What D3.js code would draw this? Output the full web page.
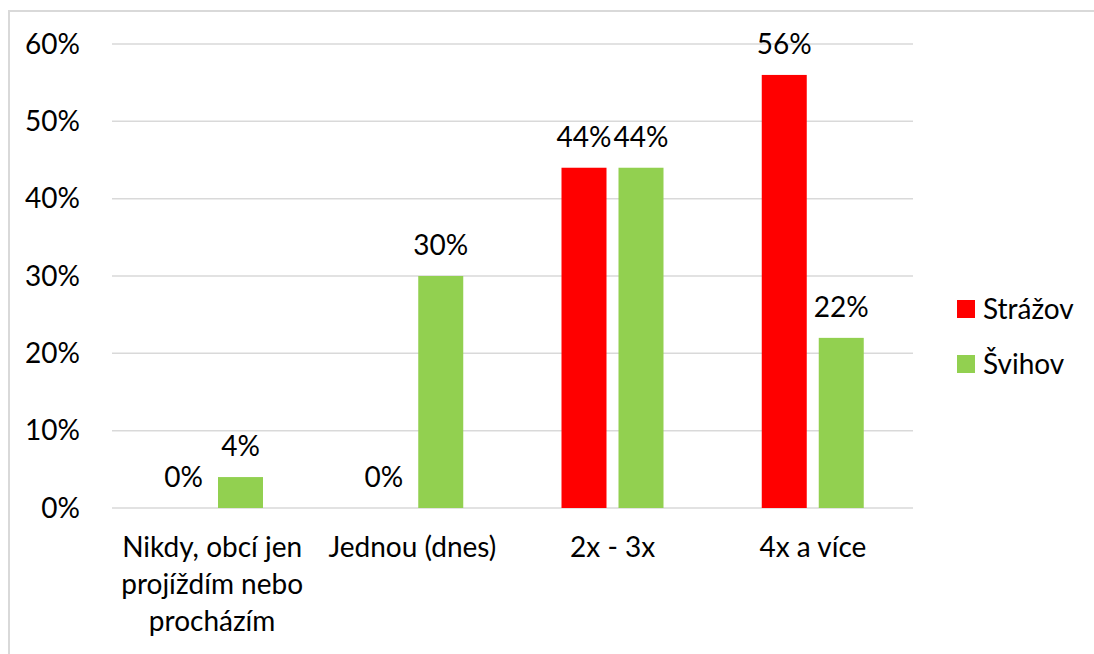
<!DOCTYPE html>
<html>
<head>
<meta charset="utf-8">
<script src="https://cdn.jsdelivr.net/npm/d3@7"></script>
<style>
  body { margin: 0; background: #fff; }
  svg { display: block; font-family: Lato, "Open Sans", sans-serif; }
</style>
</head>
<body>
<svg id="chart" width="1094" height="654"></svg>
<script>
const categories = ["Nikdy, obcí jen projíždím nebo procházím", "Jednou (dnes)", "2x - 3x", "4x a více"];
const series = ["Strážov", "Švihov"];
const strazovValues = [0, 0, 0.44, 0.56];
const svihovValues = [0.04, 0.30, 0.44, 0.22];
const yTicks = [0, 0.1, 0.2, 0.3, 0.4, 0.5, 0.6];
const colors = ["#ff0000", "#92d050"];

const values = [strazovValues, svihovValues];
const svg = d3.select("#chart");
const fontSize = 28;

// chart frame (only top and left edges visible)
svg.append("path")
    .attr("d", "M9,654V11H1094")
    .attr("fill", "none")
    .attr("stroke", "#d9d9d9")
    .attr("stroke-width", 2);

const x0 = d3.scaleBand().domain(categories).range([112, 913]);
const x1 = d3.scaleBand().domain(series).range([49, 151]).paddingInner(12 / 57);
const y = d3.scaleLinear().domain([0, 0.6]).range([508, 44]);
const pct = d3.format(".0%");

// gridlines
svg.append("g")
    .selectAll("line")
    .data(yTicks)
    .enter().append("line")
    .attr("x1", 112)
    .attr("x2", 913)
    .attr("y1", d => y(d))
    .attr("y2", d => y(d))
    .attr("stroke", "#d9d9d9")
    .attr("stroke-width", 1.5);

// y tick labels
svg.append("g")
    .attr("text-anchor", "end")
    .selectAll("text")
    .data(yTicks)
    .enter().append("text")
    .attr("x", 80)
    .attr("y", d => y(d))
    .attr("dy", "0.35em")
    .attr("font-size", fontSize)
    .attr("fill", "#000")
    .text(pct);

// bars
const groups = svg.append("g")
    .selectAll("g")
    .data(categories)
    .enter().append("g")
    .attr("transform", d => `translate(${x0(d)},0)`);

const bars = groups.selectAll("g")
    .data((d, i) => series.map((s, j) => ({ s: s, j: j, v: values[j][i] })))
    .enter().append("g");

bars.append("rect")
    .attr("x", d => x1(d.s))
    .attr("width", x1.bandwidth())
    .attr("y", d => y(d.v))
    .attr("height", d => y(0) - y(d.v))
    .attr("fill", d => colors[d.j]);

bars.append("text")
    .attr("x", d => x1(d.s) + x1.bandwidth() / 2)
    .attr("y", d => y(d.v) - 21)
    .attr("text-anchor", "middle")
    .attr("font-size", fontSize)
    .text(d => pct(d.v));

// x labels with wrapping
const xLabels = svg.append("g")
    .attr("text-anchor", "middle")
    .selectAll("text")
    .data(categories)
    .enter().append("text")
    .attr("x", d => x0(d) + x0.bandwidth() / 2)
    .attr("y", 557)
    .attr("font-size", fontSize)
    .text(d => d);

xLabels.each(function(d) {
    const text = d3.select(this);
    const words = d.split(" ");
    const cx = +text.attr("x");
    text.text(null);
    let line = [];
    let lineNo = 0;
    let tspan = text.append("tspan").attr("x", cx).attr("y", 557);
    words.forEach(w => {
        line.push(w);
        tspan.text(line.join(" "));
        if (tspan.node().getComputedTextLength() > 200 && line.length > 1) {
            line.pop();
            tspan.text(line.join(" "));
            line = [w];
            lineNo++;
            tspan = text.append("tspan").attr("x", cx).attr("y", 557 + lineNo * 37).text(w);
        }
    });
});

// legend
const legend = svg.append("g")
    .selectAll("g")
    .data(series)
    .enter().append("g")
    .attr("transform", (d, i) => `translate(957,${300 + i * 55})`);

legend.append("rect")
    .attr("width", 18)
    .attr("height", 18)
    .attr("fill", (d, i) => colors[i]);

legend.append("text")
    .attr("x", 26)
    .attr("y", 9)
    .attr("dy", "0.35em")
    .attr("font-size", fontSize)
    .text(d => d);
</script>
</body>
</html>
